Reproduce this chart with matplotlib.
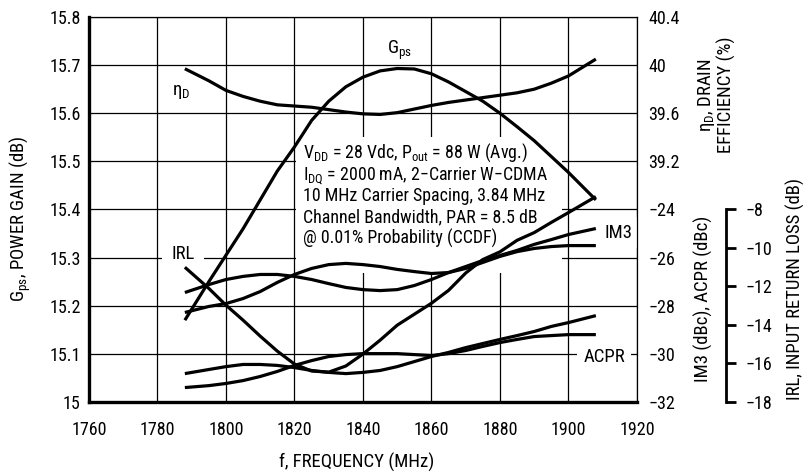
import matplotlib
matplotlib.use('Agg')
import matplotlib.pyplot as plt
from matplotlib.patches import Rectangle

FONT = ['Roboto Condensed', 'DejaVu Sans']
plt.rcParams.update({
    'font.family': FONT, 'font.size': 13,
    'mathtext.fontset': 'custom',
    'mathtext.rm': 'Roboto Condensed',
    'mathtext.it': 'Roboto Condensed:italic',
    'mathtext.bf': 'Roboto Condensed:bold',
})

# ---- data ----
freq = [1788, 1795, 1800, 1805, 1810, 1815, 1820, 1825, 1830, 1835, 1840, 1845,
        1850, 1855, 1860, 1865, 1870, 1875, 1880, 1885, 1890, 1895, 1900, 1908]
gps = [15.17, 15.25, 15.305, 15.36, 15.42, 15.48, 15.53, 15.585, 15.625, 15.655, 15.675, 15.688,
       15.693, 15.692, 15.682, 15.665, 15.645, 15.625, 15.60, 15.572, 15.543, 15.51, 15.477, 15.42]
eta_d = [39.97, 39.87, 39.79, 39.74, 39.70, 39.67, 39.66, 39.65, 39.63, 39.61, 39.595, 39.59,
         39.605, 39.635, 39.665, 39.69, 39.71, 39.73, 39.75, 39.77, 39.80, 39.85, 39.91, 40.05]
irl = [-11.0, -12.1, -12.97, -13.75, -14.58, -15.36, -16.03, -16.39, -16.45, -16.13, -15.51, -14.79,
       -14.01, -13.44, -12.87, -12.2, -11.3, -10.6, -10.2, -9.6, -9.2, -8.67, -8.16, -7.33]
im3_a = [-27.45, -27.12, -26.91, -26.78, -26.70, -26.70, -26.78, -26.91, -27.08, -27.24, -27.33, -27.37,
         -27.33, -27.16, -26.91, -26.62, -26.37, -26.12, -25.91, -25.70, -25.45, -25.25, -25.04, -24.79]
im3_b = [-28.28, -28.03, -27.91, -27.70, -27.41, -27.03, -26.70, -26.45, -26.29, -26.24, -26.29, -26.37,
         -26.49, -26.58, -26.66, -26.62, -26.45, -26.20, -25.95, -25.75, -25.62, -25.54, -25.50, -25.50]
acpr_a = [-30.82, -30.65, -30.53, -30.44, -30.44, -30.48, -30.57, -30.69, -30.77, -30.82, -30.77, -30.69,
          -30.53, -30.32, -30.11, -29.94, -29.74, -29.57, -29.40, -29.24, -29.07, -28.86, -28.70, -28.41]
acpr_b = [-31.40, -31.32, -31.23, -31.11, -30.94, -30.73, -30.48, -30.28, -30.11, -30.03, -29.99, -29.99,
          -29.99, -30.03, -30.07, -29.99, -29.86, -29.69, -29.53, -29.40, -29.28, -29.24, -29.20, -29.20]

freq_ticks = [1760, 1780, 1800, 1820, 1840, 1860, 1880, 1900, 1920]
gain_ticks = [15.0, 15.1, 15.2, 15.3, 15.4, 15.5, 15.6, 15.7, 15.8]
gain_labels = ['15', '15.1', '15.2', '15.3', '15.4', '15.5', '15.6', '15.7', '15.8']
eff_ticks = [39.2, 39.6, 40.0, 40.4]
eff_labels = ['39.2', '39.6', '40', '40.4']
dbc_ticks = [-32, -30, -28, -26, -24]
irl_ticks = [-18, -16, -14, -12, -10, -8]

cond_text = [r'V$_{\rm DD}$ = 28 Vdc, P$_{\rm out}$ = 88 W (Avg.)',
             r'I$_{\rm DQ}$ = 2000 mA, 2$-$Carrier W$-$CDMA',
             '10 MHz Carrier Spacing, 3.84 MHz',
             'Channel Bandwidth, PAR = 8.5 dB',
             '@ 0.01% Probability (CCDF)']

LW = 2.3
fig = plt.figure(figsize=(8.11, 4.75), dpi=100)
ax = fig.add_axes([0.1097, 0.1537, 0.6757, 0.8105])
ax.set_xlim(1760, 1920)
ax.set_ylim(15.0, 15.8)
ax.set_xticks(freq_ticks)
ax.set_yticks(gain_ticks)
ax.set_yticklabels(gain_labels)
ax.set_axisbelow(True)
ax.grid(True, color='black', lw=0.9)
ax.tick_params(axis='x', length=0, pad=14)
ax.tick_params(axis='y', length=0, pad=6)
for s in ['left', 'bottom']:
    ax.spines[s].set_linewidth(2.4)
for s in ['top', 'right']:
    ax.spines[s].set_linewidth(0.9)

# white panel behind the conditions text (hides grid only)
ax.add_patch(Rectangle((0.378, 0.335), 0.485, 0.353, transform=ax.transAxes,
                       facecolor='white', edgecolor='none', zorder=1))
for i, line in enumerate(cond_text):
    ax.text(0.3905, 0.6338 - i * 0.0558, line, transform=ax.transAxes,
            ha='left', va='baseline', fontsize=12.9, zorder=1.5)

ax.plot(freq, gps, color='black', lw=LW, solid_capstyle='butt', zorder=3)

# efficiency axis (upper right)
ax_eff = ax.twinx()
ax_eff.set_ylim(37.2, 40.4)
ax_eff.set_yticks(eff_ticks)
ax_eff.set_yticklabels(eff_labels)
ax_eff.plot(freq, eta_d, color='black', lw=LW, solid_capstyle='butt')

# IM3 / ACPR axis (lower right)
ax_dbc = ax.twinx()
ax_dbc.set_ylim(-32, -16)
ax_dbc.set_yticks(dbc_ticks)
for series in (im3_a, im3_b, acpr_a, acpr_b):
    ax_dbc.plot(freq, series, color='black', lw=LW, solid_capstyle='butt')

# IRL axis (separate spine further right)
ax_irl = ax.twinx()
ax_irl.set_ylim(-18, 2)
ax_irl.set_yticks(irl_ticks)
ax_irl.plot(freq, irl, color='black', lw=LW, solid_capstyle='butt')

for a in (ax_eff, ax_dbc, ax_irl):
    for s in a.spines.values():
        s.set_visible(False)
for a in (ax_eff, ax_dbc):
    a.tick_params(axis='y', length=0, pad=8)
ax_irl.spines['right'].set_visible(True)
ax_irl.spines['right'].set_position(('outward', 64))
ax_irl.spines['right'].set_bounds(-18, -8)
ax_irl.spines['right'].set_linewidth(2.0)
ax_irl.tick_params(axis='y', length=7, width=2.0, pad=7, direction='out')

# curve labels
box = dict(boxstyle='square,pad=0.35', facecolor='white', edgecolor='none')
ax.text(1850.8, 15.731, r'G$_{\rm ps}$', ha='center', va='center', fontsize=13.5)
ax.text(1786.9, 15.644, r'η$_{\rm D}$', ha='center', va='center', fontsize=13.5)
ax.text(1787.4, 15.307, 'IRL', ha='center', va='center', fontsize=13.5,
        bbox=dict(boxstyle='square,pad=0.5', facecolor='white', edgecolor='none'), zorder=1.2)
ax.text(1910.4, 15.094, 'ACPR', ha='center', va='center', fontsize=13.5, bbox=box, zorder=1.2)
ax.text(1914.5, 15.352, 'IM3', ha='center', va='center', fontsize=13.5, bbox=box, zorder=1.2)

# axis titles
fig.text(357 / 811, 1 - 462 / 475, 'f, FREQUENCY (MHz)', ha='center', va='center', fontsize=13.5)
fig.text(20 / 811, 1 - 219 / 475, r'G$_{\rm ps}$, POWER GAIN (dB)', rotation=90,
         ha='center', va='center', fontsize=13.5)
fig.text(716 / 811, 1 - 95 / 475, 'η$_{\\rm D}$, DRAIN\nEFFICIENCY (%)', rotation=90,
         ha='center', va='center', linespacing=1.0, fontsize=13.5)
fig.text(703 / 811, 1 - 299 / 475, 'IM3 (dBc), ACPR (dBc)', rotation=90,
         ha='center', va='center', fontsize=13.5)
fig.text(795 / 811, 1 - 289 / 475, 'IRL, INPUT RETURN LOSS (dB)', rotation=90,
         ha='center', va='center', fontsize=13.5)

fig.savefig('out.png', dpi=100, facecolor='white')
